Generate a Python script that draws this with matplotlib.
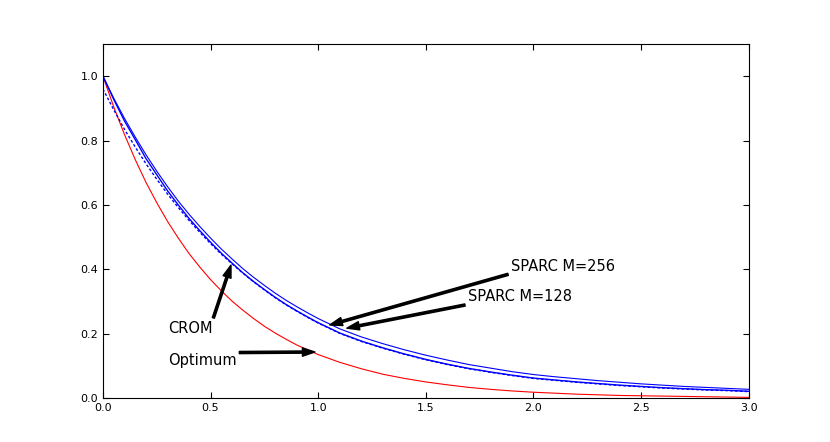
import matplotlib
matplotlib.use('Agg')
import matplotlib.pyplot as plt

# data (finer steps where the curves bend most)
x = [0.0, 0.05, 0.1, 0.15, 0.2, 0.25, 0.3, 0.35, 0.4, 0.45, 0.5,
     0.55, 0.6, 0.65, 0.7, 0.75, 0.8, 0.85, 0.9, 0.95, 1.0,
     1.1, 1.2, 1.3, 1.4, 1.5, 1.6, 1.7, 1.8, 1.9, 2.0,
     2.1, 2.2, 2.3, 2.4, 2.5, 2.6, 2.7, 2.8, 2.9, 3.0]

optimum = [1.000, 0.905, 0.819, 0.741, 0.670, 0.607, 0.549, 0.497, 0.449, 0.407, 0.368,
           0.333, 0.301, 0.273, 0.247, 0.223, 0.202, 0.183, 0.165, 0.150, 0.135,
           0.111, 0.091, 0.074, 0.061, 0.050, 0.041, 0.033, 0.027, 0.022, 0.018,
           0.015, 0.012, 0.010, 0.008, 0.007, 0.006, 0.005, 0.004, 0.003, 0.002]

sparc_256 = [1.000, 0.932, 0.869, 0.811, 0.756, 0.705, 0.657, 0.612, 0.571, 0.533, 0.497,
             0.463, 0.432, 0.402, 0.375, 0.350, 0.326, 0.304, 0.284, 0.265, 0.247,
             0.215, 0.190, 0.169, 0.150, 0.133, 0.118, 0.104, 0.093, 0.082, 0.073,
             0.066, 0.060, 0.054, 0.049, 0.044, 0.040, 0.036, 0.033, 0.030, 0.027]

sparc_128 = [1.000, 0.928, 0.861, 0.803, 0.744, 0.694, 0.644, 0.600, 0.558, 0.520, 0.484,
             0.450, 0.419, 0.389, 0.362, 0.337, 0.313, 0.291, 0.271, 0.252, 0.234,
             0.202, 0.177, 0.156, 0.137, 0.120, 0.105, 0.092, 0.081, 0.071, 0.062,
             0.056, 0.050, 0.045, 0.040, 0.036, 0.032, 0.029, 0.026, 0.024, 0.021]

crom = [0.960, 0.896, 0.835, 0.780, 0.728, 0.680, 0.634, 0.592, 0.552, 0.515, 0.480,
        0.447, 0.417, 0.388, 0.361, 0.336, 0.312, 0.290, 0.270, 0.251, 0.233,
        0.201, 0.176, 0.155, 0.136, 0.119, 0.104, 0.091, 0.080, 0.070, 0.061,
        0.055, 0.049, 0.044, 0.039, 0.035, 0.031, 0.028, 0.025, 0.023, 0.020]

# label text, arrow tip, text position
notes = [
    ('SPARC M=256', (1.054, 0.227), (1.895, 0.410)),
    ('SPARC M=128', (1.133, 0.217), (1.695, 0.314)),
    ('CROM', (0.595, 0.413), (0.302, 0.217)),
    ('Optimum', (0.985, 0.143), (0.302, 0.118)),
]

fig = plt.figure(figsize=(8.3, 4.42), dpi=100)
ax = fig.add_axes([0.124, 0.0995, 0.778, 0.801])

ax.plot(x, optimum, color='red', lw=0.8)
ax.plot(x, sparc_256, color='blue', lw=0.8)
ax.plot(x, sparc_128, color='blue', lw=1.0)
ax.plot(x, crom, color='blue', lw=1.0, linestyle=(0, (2, 1.5)))

for txt, tip, pos in notes:
    ax.annotate(txt, xy=tip, xytext=pos, ha='left', va='center', fontsize=10.5,
                arrowprops=dict(facecolor='black', edgecolor='black',
                                width=1.6, headwidth=6, headlength=9))

ax.set_xlim(0, 3.0)
ax.set_ylim(0, 1.1)
ax.set_xticks([0.0, 0.5, 1.0, 1.5, 2.0, 2.5, 3.0])
ax.set_yticks([0.0, 0.2, 0.4, 0.6, 0.8, 1.0])
ax.tick_params(direction='in', top=True, right=True, length=4, labelsize=8)
for sp in ax.spines.values():
    sp.set_linewidth(0.8)

fig.savefig('out.png', dpi=100)
